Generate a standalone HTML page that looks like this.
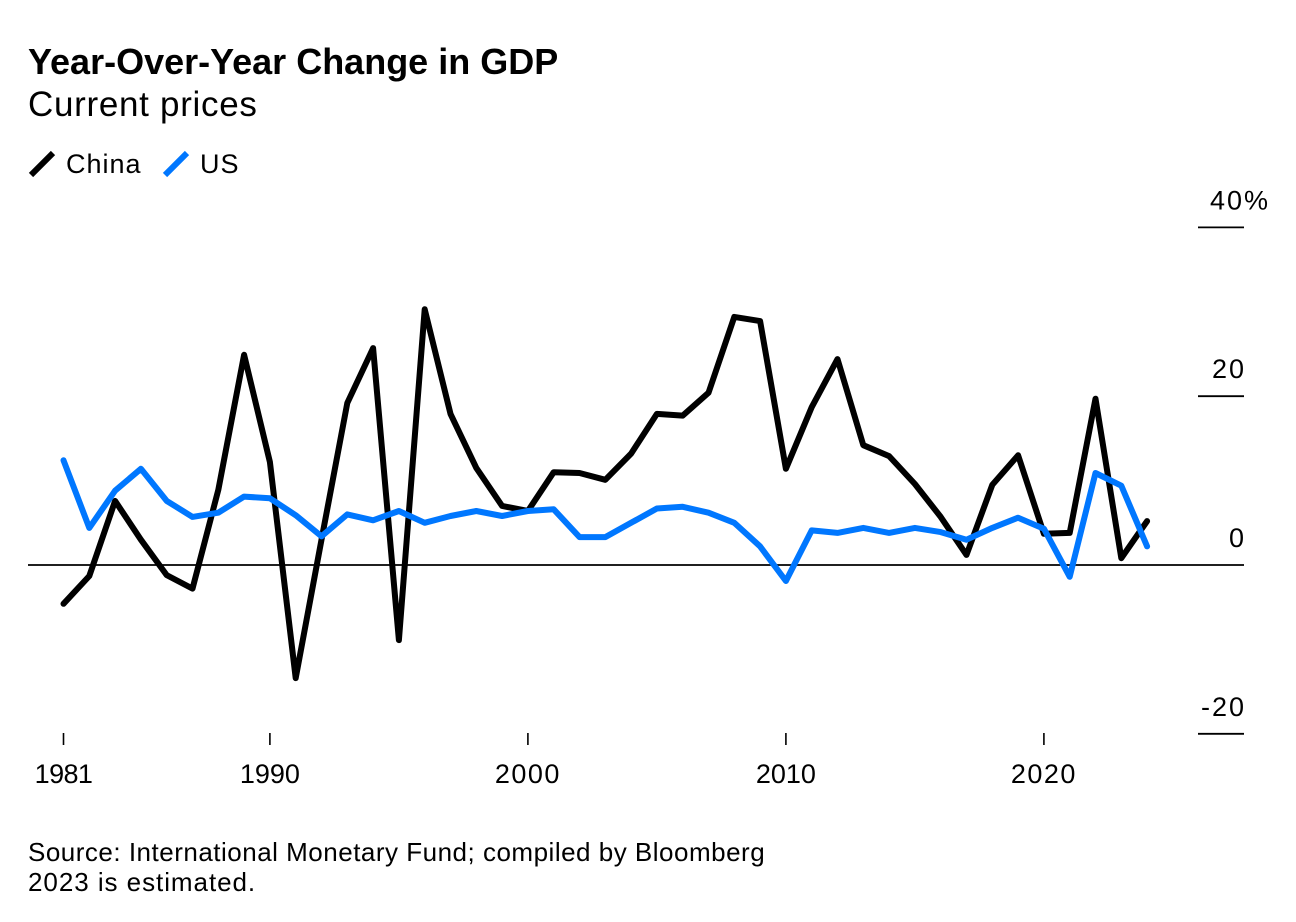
<!DOCTYPE html>
<html lang="en">
<head>
<meta charset="utf-8">
<title>Year-Over-Year Change in GDP</title>
<style>
html,body{margin:0;padding:0;background:#fff;}
body{width:1296px;height:922px;overflow:hidden;position:relative;font-family:"Liberation Sans",sans-serif;color:#000;}
.t{position:absolute;white-space:nowrap;margin:0;font-weight:normal;}
svg{position:absolute;left:0;top:0;}
svg text{font-family:"Liberation Sans",sans-serif;font-size:27px;fill:#000;}
</style>
</head>
<body>
<h1 class="t" style="left:28px;top:41px;font-size:36px;line-height:42px;font-weight:bold;letter-spacing:0;">Year-Over-Year Change in GDP</h1>
<div class="t" style="left:28px;top:84px;font-size:35px;line-height:42px;letter-spacing:0.7px;">Current prices</div>
<div class="t" style="left:66px;top:147px;font-size:27px;line-height:34px;letter-spacing:1px;">China</div>
<div class="t" style="left:200px;top:147px;font-size:27px;line-height:34px;letter-spacing:1px;">US</div>
<svg id="chart" width="1296" height="922" viewBox="0 0 1296 922"></svg>
<div class="t" style="left:28px;top:837px;font-size:26px;line-height:30px;letter-spacing:0.5px;">Source: International Monetary Fund; compiled by Bloomberg<br><span style="letter-spacing:0.95px;">2023 is estimated.</span></div>
<script>
var years = [1982,1983,1984,1985,1986,1987,1988,1989,1990,1991,1992,1993,1994,1995,1996,1997,1998,1999,2000,2001,2002,2003,2004,2005,2006,2007,2008,2009,2010,2011,2012,2013,2014,2015,2016,2017,2018,2019,2020,2021,2022,2023,2024];
var chinaValues = [-4.6,-1.3,7.6,3,-1.2,-2.8,8.9,24.9,12.2,-13.4,3,19.2,25.7,-8.9,30.3,17.9,11.5,7,6.4,11,10.9,10.1,13.2,17.9,17.7,20.4,29.4,28.9,11.4,18.7,24.4,14.2,12.9,9.6,5.7,1.2,9.5,13,3.7,3.8,19.7,0.8,5.2];
var usValues = [12.4,4.4,8.8,11.4,7.6,5.7,6.2,8.1,7.9,5.9,3.4,6,5.3,6.4,5,5.8,6.4,5.8,6.4,6.6,3.3,3.3,5,6.7,6.9,6.2,5,2.2,-1.9,4.1,3.8,4.4,3.8,4.4,3.9,3,4.4,5.6,4.3,-1.4,10.9,9.4,2.2];
var xTickYears = [1982,1990,2000,2010,2020];
var xTickLabels = ["1981","1990","2000","2010","2020"];
var yTickValues = [40,20,0,-20];
var yTickLabels = ["40%","20","0","-20"];

var NS = "http://www.w3.org/2000/svg";
var svg = document.getElementById("chart");
function xScale(year){ return 63.5 + (year - 1982) * 25.8; }
function yScale(v){ return 565 - v * 8.44; }
function make(tag, attrs){
  var el = document.createElementNS(NS, tag);
  for (var k in attrs) el.setAttribute(k, attrs[k]);
  svg.appendChild(el);
  return el;
}
yTickValues.forEach(function(v, i){
  var y = yScale(v);
  var line = make("line", {x1: v === 0 ? 28 : 1198, x2: 1244, y1: y, y2: y, stroke: "#000", "stroke-width": 1.8});
  
  
  var hasUnit = yTickLabels[i].indexOf("%") >= 0;
  var label = make("text", {x: hasUnit ? 1270 : 1246, y: y - 18, "text-anchor": "end", "letter-spacing": 2});
  
  
  label.textContent = yTickLabels[i];
});
xTickYears.forEach(function(yr, i){
  var x = xScale(yr);
  var tick = make("line", {x1: x, x2: x, y1: 733, y2: 745, stroke: "#000", "stroke-width": 1.6});
  
  
  var narrowDigits = xTickLabels[i].split("1").length - 1;
  var label = make("text", {x: x, y: 783, "text-anchor": "middle", "letter-spacing": narrowDigits > 1 ? -0.6 : (narrowDigits === 1 ? 0 : 1.5)});
  
  
  label.textContent = xTickLabels[i];
});
function drawSeries(values, color){
  var pts = values.map(function(v, i){ return xScale(years[i]).toFixed(1) + "," + yScale(v).toFixed(1); }).join(" ");
  return make("polyline", {points: pts, fill: "none", stroke: color, "stroke-width": 6, "stroke-linejoin": "round", "stroke-linecap": "round"});
}
var chinaLine = drawSeries(chinaValues, "#000000");


var usLine = drawSeries(usValues, "#0077ff");


var keyChina = make("line", {x1: 31, y1: 175, x2: 53, y2: 153, stroke: "#000000", "stroke-width": 6});


var keyUs = make("line", {x1: 165, y1: 175, x2: 187, y2: 153, stroke: "#0077ff", "stroke-width": 6});


</script>
</body>
</html>
